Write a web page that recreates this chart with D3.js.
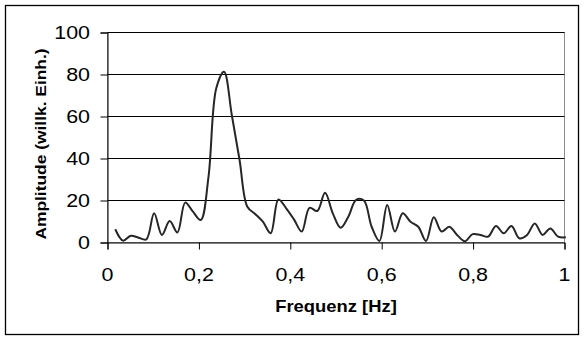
<!DOCTYPE html>
<html>
<head>
<meta charset="utf-8">
<script src="https://cdn.jsdelivr.net/npm/d3@7/dist/d3.min.js"></script>
<style>
  html, body { margin: 0; padding: 0; background: #fff; }
  svg { display: block; }
  text { font-family: "Liberation Sans", Arial, sans-serif; fill: #000; }
</style>
</head>
<body>
<svg id="chart" width="584" height="340"></svg>
<script>
// Frequency grid of the spectrum [Hz]
const frequencies = [0.017, 0.034, 0.051, 0.068, 0.085, 0.102, 0.119, 0.136, 0.153, 0.170,
  0.187, 0.204, 0.221, 0.238, 0.255, 0.272, 0.289, 0.306, 0.323, 0.340,
  0.357, 0.374, 0.391, 0.408, 0.425, 0.442, 0.459, 0.476, 0.493, 0.510,
  0.527, 0.544, 0.561, 0.578, 0.595, 0.612, 0.629, 0.646, 0.663, 0.680,
  0.697, 0.714, 0.731, 0.748, 0.765, 0.782, 0.799, 0.816, 0.833, 0.850,
  0.867, 0.884, 0.901, 0.918, 0.935, 0.952, 0.969, 0.986, 1.003];

// Spectral amplitude (arbitrary units)
const amplitudes = [6.3, 0.9, 3.2, 2.3, 1.5, 13.9, 3.6, 10.2, 4.8, 19.0,
  14.7, 10.7, 31.3, 73.4, 81.3, 60.7, 39.3, 17.0, 13.6, 9.9,
  4.4, 20.5, 16.3, 11.0, 5.2, 16.5, 15.0, 23.7, 13.9, 7.0,
  12.3, 20.3, 20.0, 7.5, 0.7, 17.9, 5.2, 13.9, 9.9, 7.5,
  0.7, 12.0, 5.2, 7.5, 3.6, 0.6, 4.0, 3.6, 2.8, 7.9,
  4.4, 7.9, 2.0, 3.6, 9.1, 3.6, 6.7, 2.8, 2.5];

const xTicks = [0, 0.2, 0.4, 0.6, 0.8, 1];
const xTickLabels = ["0", "0,2", "0,4", "0,6", "0,8", "1"];
const yTicks = [0, 20, 40, 60, 80, 100];
const yTickLabels = ["0", "20", "40", "60", "80", "100"];

const xTitle = "Frequenz [Hz]";
const yTitle = "Amplitude (willk. Einh.)";

const svg = d3.select("#chart");

const plot = { left: 107.5, right: 564.5, top: 32.5, bottom: 242.5 };

const x = d3.scaleLinear().domain([0, 1]).range([plot.left, plot.right]);
const y = d3.scaleLinear().domain([0, 100]).range([plot.bottom, plot.top]);

// Outer chart frame
svg.append("rect")
  .attr("x", 5.5).attr("y", 5.5)
  .attr("width", 573).attr("height", 329)
  .attr("fill", "none").attr("stroke", "#000").attr("stroke-width", 1.3);

// Plot area frame (grey)
svg.append("rect")
  .attr("x", plot.left).attr("y", plot.top)
  .attr("width", plot.right - plot.left).attr("height", plot.bottom - plot.top)
  .attr("fill", "none").attr("stroke", "#8c8c8c").attr("stroke-width", 1);

// Horizontal grid lines
svg.append("g")
  .selectAll("line")
  .data(yTicks.filter(d => d > 0))
  .join("line")
  .attr("x1", plot.left).attr("x2", plot.right)
  .attr("y1", d => y(d)).attr("y2", d => y(d))
  .attr("stroke", "#000").attr("stroke-width", 1);

// Axes (lines and outward ticks)
const yAxis = svg.append("g")
  .attr("transform", `translate(${plot.left},0)`)
  .call(d3.axisLeft(y).tickValues(yTicks).tickSize(7).tickFormat(""));
const xAxis = svg.append("g")
  .attr("transform", `translate(0,${plot.bottom})`)
  .call(d3.axisBottom(x).tickValues(xTicks).tickSize(7).tickFormat(""));
[yAxis, xAxis].forEach(g => {
  g.select(".domain").attr("stroke", "#000").attr("stroke-width", 1);
  g.selectAll(".tick line").attr("stroke", "#000").attr("stroke-width", 1);
});

// Tick labels
const stretch = 1.16;
svg.append("g")
  .selectAll("text")
  .data(yTicks)
  .join("text")
  .attr("transform", d => `translate(90,${y(d)}) scale(${stretch},1)`)
  .attr("dy", "0.36em")
  .attr("text-anchor", "end")
  .attr("font-size", 18.5)
  .text((d, i) => yTickLabels[i]);

svg.append("g")
  .selectAll("text")
  .data(xTicks)
  .join("text")
  .attr("transform", d => `translate(${x(d)},281) scale(${stretch},1)`)
  .attr("text-anchor", "middle")
  .attr("font-size", 18.5)
  .text((d, i) => xTickLabels[i]);

// Axis titles
svg.append("text")
  .attr("transform", `translate(${(plot.left + plot.right) / 2},312) scale(1.15,1)`)
  .attr("text-anchor", "middle")
  .attr("font-size", 16)
  .attr("font-weight", "bold")
  .text(xTitle);

svg.append("text")
  .attr("transform", `translate(46,144) rotate(-90) scale(1.2,1)`)
  .attr("text-anchor", "middle")
  .attr("font-size", 14.5)
  .attr("font-weight", "bold")
  .text(yTitle);

// Spectrum line
const points = frequencies.map((f, i) => [f, amplitudes[i]]);
const line = d3.line()
  .x(d => x(d[0]))
  .y(d => y(d[1]))
  .curve(d3.curveCatmullRom.alpha(0.5));

svg.append("path")
  .datum(points)
  .attr("d", line)
  .attr("fill", "none")
  .attr("stroke", "#262626")
  .attr("stroke-width", 2)
  .attr("stroke-linejoin", "round");
</script>
</body>
</html>
